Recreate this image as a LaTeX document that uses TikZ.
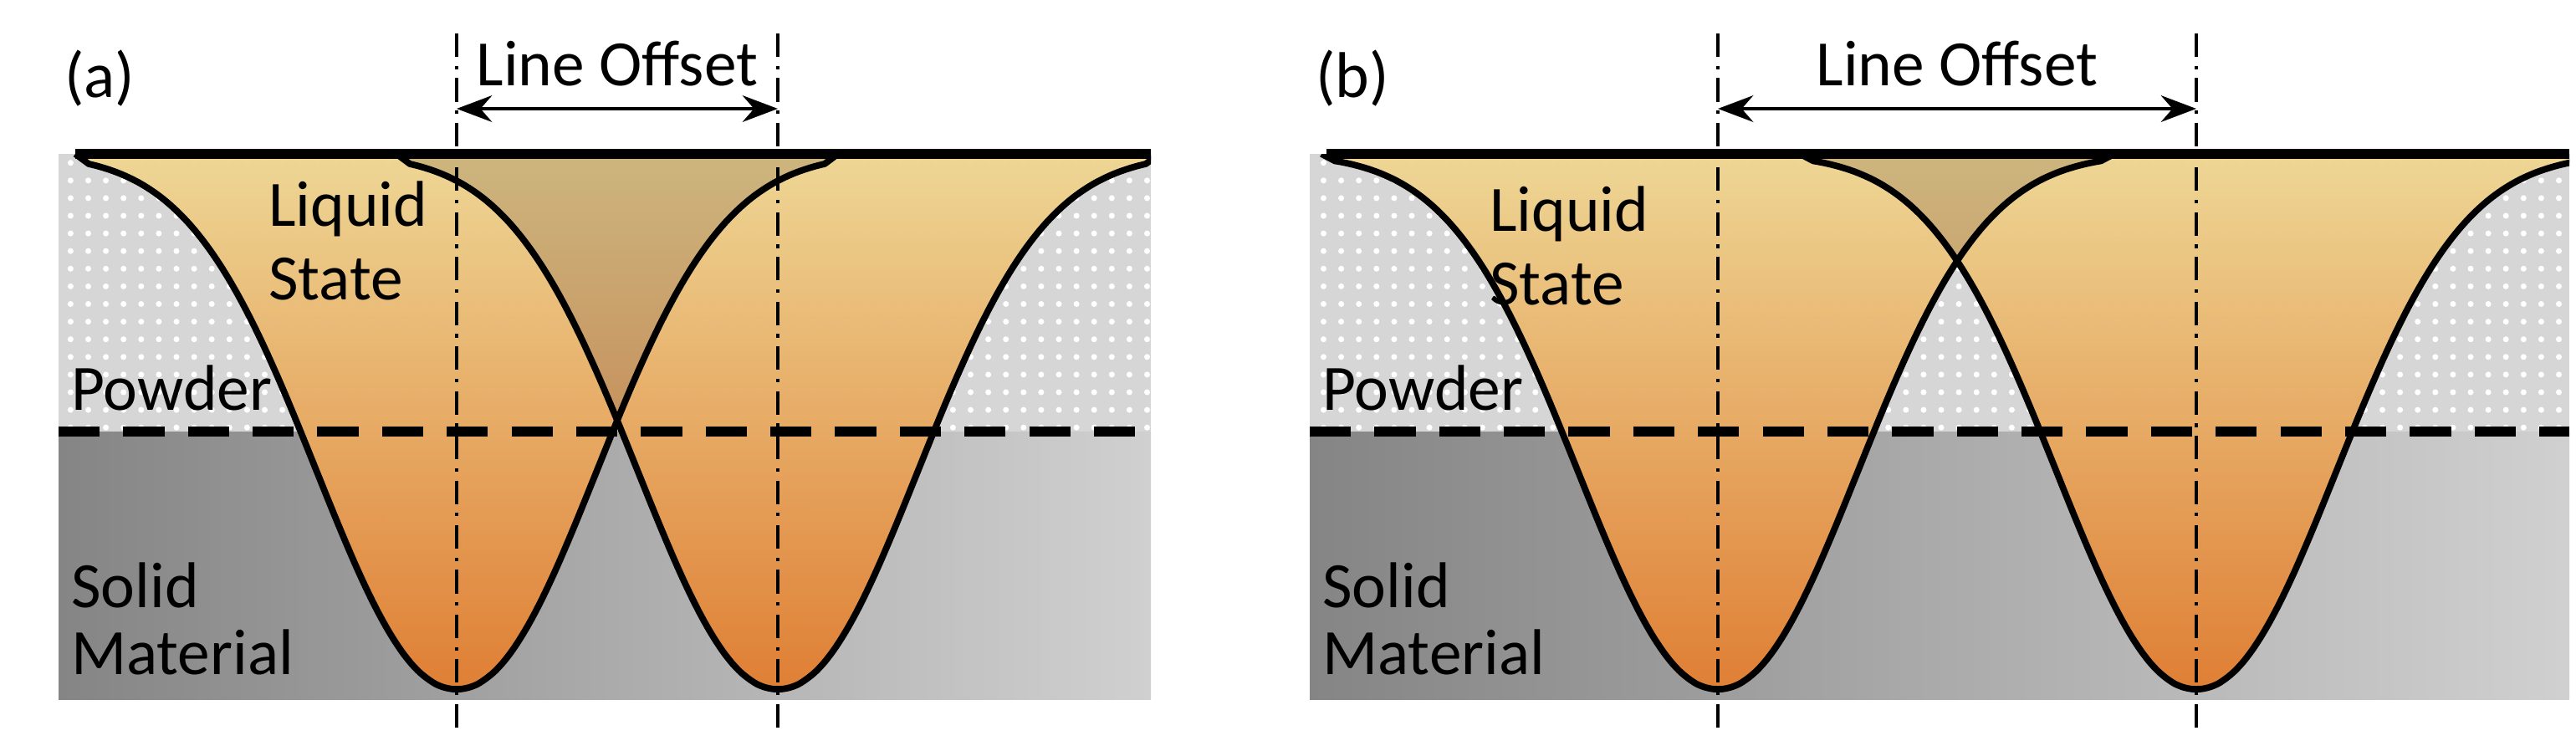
\documentclass[tikz,border=0pt]{standalone}
\usepackage{fontspec}
\setmainfont{Carlito}
\usetikzlibrary{patterns,arrows.meta}
\definecolor{pw}{HTML}{D6D6D6}
\definecolor{sd}{HTML}{858585}
\definecolor{sl}{HTML}{D0D0D0}
\definecolor{ptop}{HTML}{FFE6A0}
\definecolor{pbot}{HTML}{F08838}
\definecolor{btop}{HTML}{CDB57E}
\definecolor{bbot}{HTML}{C0703E}
\tikzset{
 lbl/.style={font=\fontsize{11}{12}\selectfont, anchor=west, inner sep=0pt},
 dd/.style={line width=0.5pt, dash pattern=on 4pt off 1.5pt on 0.6pt off 1.5pt},
 outl/.style={line width=1.1pt, line join=round},
 poolf/.style={top color=ptop, bottom color=pbot, fill opacity=0.93},
 brown/.style={top color=btop, bottom color=bbot},
}
\newcommand{\poolp}[2]{(#1-#2,-92) -- plot[domain=-#2+8:#2-8,samples=90,smooth] ({#1+\x},{-(92+320*exp(-((abs(\x)/114+0.0001)^2.1)))}) -- (#1+#2,-92)}
\newcommand{\panel}[7]{% left, right, c1, c2, hw, id, label
 \fill[pw] (#1,-92) rectangle (#2,-258);
 \fill[pattern=dots, pattern color=white] (#1,-92) rectangle (#2,-258);
 \shade[left color=sd, right color=sl] (#1,-258) rectangle (#2,-418);
 \begin{scope}
  \clip (#1,-92) rectangle (#2,-430);
  \fill[poolf] \poolp{#3}{#5} -- cycle;
  \fill[poolf] \poolp{#4}{#5} -- cycle;
  \begin{scope}
   \clip \poolp{#3}{#5} -- cycle;
   \fill[brown] \poolp{#4}{#5} -- cycle;
  \end{scope}
  \draw[outl] \poolp{#3}{#5};
  \draw[outl] \poolp{#4}{#5};
 \end{scope}
 \draw[line width=1.6pt, dash pattern=on 7pt off 4pt] (#1,-258) -- (#2,-258);
 \draw[line width=1.8pt] (#1+10,-92) -- (#2,-92);
 \coordinate (#6t1) at (#3,-20); \coordinate (#6b1) at (#3,-440);
 \coordinate (#6t2) at (#4,-20); \coordinate (#6b2) at (#4,-440);
 \coordinate (#6a1) at (#3,-65); \coordinate (#6a2) at (#4,-65);
 \draw[dd] (#6t1) -- (#6b1);
 \draw[dd] (#6t2) -- (#6b2);
 \draw[{Stealth[length=6pt]}-{Stealth[length=6pt]}, line width=0.6pt] (#6a1) -- (#6a2);
 \node[font=\fontsize{11}{12}\selectfont] (#6off) at ({(#3+#4)/2},-38) {Line Offset};
 \node[lbl] (#6lab) at (#1+3,-47) {#7};
 \node[lbl] (#6pow) at (#1+7,-232) {Powder};
 \node[lbl] (#6sol) at (#1+7,-350) {Solid};
 \node[lbl] (#6mat) at (#1+7,-390) {Material};
}
\begin{document}
\begin{tikzpicture}[x=0.01cm,y=0.01cm]
\useasboundingbox (0,0) rectangle (1540,-445.5);
\panel{35}{688}{273}{465}{228}{A}{(a)}
\node[lbl] (liqa) at (160,-125) {Liquid};
\node[lbl] (sta) at (160,-167) {State};
\panel{783}{1536}{1027}{1313}{237}{B}{(b)}
\node[lbl] (liqb) at (890,-128) {Liquid};
\node[lbl] (stb) at (890,-170) {State};
\end{tikzpicture}
\end{document}
